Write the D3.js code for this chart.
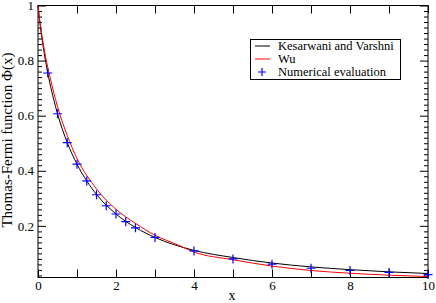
<!DOCTYPE html>
<html><head><meta charset="utf-8">
<script src="https://cdn.jsdelivr.net/npm/d3@7"></script>
<style>body{margin:0;background:#fff}svg{display:block}svg text{font-family:"Liberation Serif","Times New Roman",serif}</style>
</head><body>
<svg id="c" width="436" height="303"></svg>
<script>
// Numerical evaluation points
const numX = [0.25,0.5,0.75,1,1.25,1.5,1.75,2,2.25,2.5,3,4,5,6,7,8,9,10];
const numY = [0.755,0.607,0.502,0.424,0.363,0.313,0.273,0.243,0.215,0.193,0.158,0.109,0.080,0.061,0.046,0.038,0.031,0.023];
// Kesarwani and Varshni curve
const kvX = [0,0.05,0.1,0.2,0.3,0.4,0.5,0.75,1,1.25,1.5,2,2.5,3,4,5,6,7,8,9,10];
const kvY = [1,0.935,0.882,0.793,0.721,0.660,0.607,0.502,0.424,0.363,0.314,0.243,0.194,0.158,0.111,0.085,0.065,0.051,0.041,0.033,0.027];
// Wu curve
const wuX = [0,0.05,0.1,0.2,0.3,0.5,0.75,1,1.5,2,2.5,3,3.6,4,5,6,7,8,9,10];
const wuY = [1,0.94,0.892,0.81,0.745,0.633,0.528,0.445,0.334,0.260,0.209,0.166,0.130,0.105,0.077,0.054,0.038,0.028,0.021,0.016];

const xTickVals = [0,1,2,3,4,5,6,7,8,9,10];
const xLabelVals = [0,2,4,6,8,10];
const yMajor = [0.2,0.4,0.6,0.8,1];
const yMinor = d3.range(1,50).map(i => +(i*0.02).toFixed(2)).filter(v => !yMajor.some(m => Math.abs(m-v)<1e-9));
const seriesNames = ["Kesarwani and Varshni","Wu","Numerical evaluation"];
const colors = ["#000000","#ff0000","#0000ff"];

const svg = d3.select("#c");
const L = 38, R = 428, T = 5.5, B = 277.5;
const x = d3.scaleLinear().domain([0,10]).range([L,R]);
const y = d3.scaleLinear().domain([0.0125,1]).range([B,T]);
const font = '"Liberation Serif","Times New Roman",serif';

function styleAxis(g){
  g.attr("font-family",null);
  g.select(".domain").remove();
  g.selectAll(".tick line").attr("stroke","#000").attr("stroke-width",1);
  g.selectAll("text").style("font-family",font).attr("font-size",13).attr("fill","#000");
}
// bottom
svg.append("g").attr("transform",`translate(0,${B})`)
  .call(d3.axisBottom(x).tickValues(xTickVals).tickSizeInner(-8).tickSizeOuter(0).tickPadding(3.5)
    .tickFormat(d => xLabelVals.includes(d) ? String(d) : ""))
  .call(styleAxis);
// top
svg.append("g").attr("transform",`translate(0,${T})`)
  .call(d3.axisTop(x).tickValues(xTickVals).tickSizeInner(-8).tickSizeOuter(0).tickFormat(""))
  .call(styleAxis);
// left major
svg.append("g").attr("transform",`translate(${L},0)`)
  .call(d3.axisLeft(y).tickValues(yMajor).tickSizeInner(-8).tickSizeOuter(0).tickPadding(4)
    .tickFormat(d => String(+d.toFixed(1))))
  .call(styleAxis);
svg.append("g").attr("transform",`translate(${L},0)`)
  .call(d3.axisLeft(y).tickValues(yMinor).tickSizeInner(-4).tickSizeOuter(0).tickFormat(""))
  .call(styleAxis);
// right
svg.append("g").attr("transform",`translate(${R},0)`)
  .call(d3.axisRight(y).tickValues(yMajor).tickSizeInner(-8).tickSizeOuter(0).tickFormat(""))
  .call(styleAxis);
svg.append("g").attr("transform",`translate(${R},0)`)
  .call(d3.axisRight(y).tickValues(yMinor).tickSizeInner(-4).tickSizeOuter(0).tickFormat(""))
  .call(styleAxis);

// frame
svg.append("rect").attr("x",L).attr("y",T).attr("width",R-L).attr("height",B-T)
  .attr("fill","none").attr("stroke","#000").attr("stroke-width",1);

const line = d3.line().x(d=>x(d[0])).y(d=>y(d[1])).curve(d3.curveMonotoneX);
svg.append("path").datum(kvX.map((v,i)=>[v,kvY[i]])).attr("d",line)
  .attr("fill","none").attr("stroke",colors[0]).attr("stroke-width",1);
svg.append("path").datum(wuX.map((v,i)=>[v,wuY[i]])).attr("d",line)
  .attr("fill","none").attr("stroke",colors[1]).attr("stroke-width",1);

const s = 4.5;
const pts = svg.append("g").attr("stroke",colors[2]).attr("stroke-width",1.2);
numX.forEach((v,i)=>{
  const px = x(v), py = y(numY[i]);
  pts.append("path").attr("d",`M${px-s},${py}H${px+s}M${px},${py-s}V${py+s}`);
});

// axis titles
svg.append("text").attr("x",(L+R)/2-1).attr("y",300).attr("text-anchor","middle")
  .style("font-family",font).attr("font-size",14).text("x");
svg.append("text").attr("transform","translate(12,140) rotate(-90)").attr("text-anchor","middle")
  .style("font-family",font).attr("font-size",15).text("Thomas-Fermi function Φ(x)");

// legend
const lg = svg.append("g");
lg.append("rect").attr("x",250.5).attr("y",39.5).attr("width",150).attr("height",40)
  .attr("fill","#fff").attr("stroke","#000").attr("stroke-width",1);
const rowsY = [46,59,72];
seriesNames.forEach((n,i)=>{
  if(i<2){
    lg.append("line").attr("x1",255).attr("x2",270).attr("y1",rowsY[i]).attr("y2",rowsY[i])
      .attr("stroke",colors[i]).attr("stroke-width",1);
  } else {
    const cx=262, cy=rowsY[i];
    lg.append("path").attr("d",`M${cx-4},${cy}H${cx+4}M${cx},${cy-4}V${cy+4}`)
      .attr("stroke",colors[i]).attr("stroke-width",1.2);
  }
  lg.append("text").attr("x",278).attr("y",rowsY[i]).attr("dy","0.35em")
    .style("font-family",font).attr("font-size",12.5).text(n);
});
</script>
</body></html>
